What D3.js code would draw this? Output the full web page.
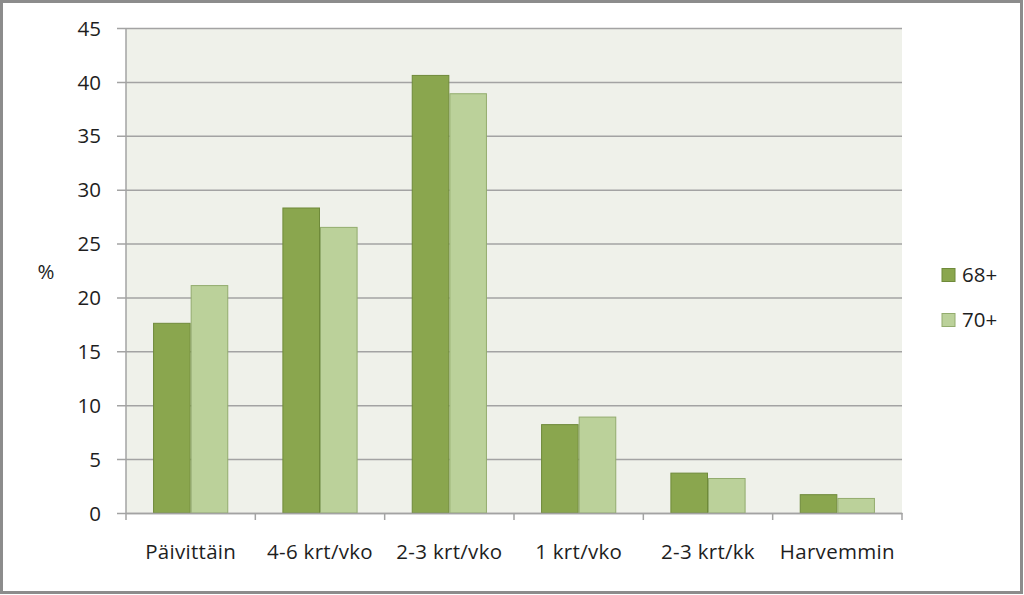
<!DOCTYPE html>
<html><head><meta charset="utf-8">
<script src="https://cdn.jsdelivr.net/npm/d3@7"></script>
<style>body{margin:0;background:#fff;} svg{display:block;}</style>
</head><body>
<svg id="c" width="1024" height="595"></svg>
<script>
const categories = ["Päivittäin", "4-6 krt/vko", "2-3 krt/vko", "1 krt/vko", "2-3 krt/kk", "Harvemmin"];
const seriesNames = ["68+", "70+"];
const values68 = [17.6, 28.3, 40.6, 8.2, 3.7, 1.7];
const values70 = [21.1, 26.5, 38.9, 8.9, 3.2, 1.35];
const yTicks = [0, 5, 10, 15, 20, 25, 30, 35, 40, 45];
const colors = ["#8aa64e", "#bbd19a"];
const strokes = ["#6f8a3a", "#93ac6e"];

(function(){
const svg = d3.select("#c");
const font = "'Open Sans', sans-serif";
const fs = 20.5;
svg.append("rect").attr("x",1.5).attr("y",1.5).attr("width",1020).attr("height",591)
  .attr("fill","#fff").attr("stroke","#8c8c8c").attr("stroke-width",3);

const pL = 126, pR = 902, pT = 28, pB = 513;
const x = d3.scaleBand().domain(categories).range([pL, pR]).paddingInner(0).paddingOuter(0);
const x1 = d3.scaleBand().domain(seriesNames).range([0, x.bandwidth()]).paddingInner(0).paddingOuter(0.72);
const y = d3.scaleLinear().domain([0, 45]).range([pB, pT]);

svg.append("rect").attr("x",pL).attr("y",pT).attr("width",pR-pL).attr("height",pB-pT).attr("fill","#eff1ea");

// gridlines + y axis
const yAxis = d3.axisLeft(y).tickValues(yTicks).tickSize(pR-117).tickSizeOuter(0).tickFormat(d3.format("d"));
const gy = svg.append("g").attr("transform",`translate(${pR},0)`).call(yAxis);
gy.select(".domain").remove();
gy.selectAll(".tick line").attr("stroke","#a3a3a3").attr("stroke-width",1.5);
gy.selectAll(".tick text").attr("x",-(pR-117)-16).attr("font-family",font).attr("font-size",fs).attr("fill","#1e1e1e").attr("dy","0.35em");

svg.append("line").attr("x1",pL).attr("x2",pL).attr("y1",pT).attr("y2",pB).attr("stroke","#a3a3a3").attr("stroke-width",1.5);

// bars
const data = categories.map((c,i)=>({c, vals:[values68[i], values70[i]]}));
const groups = svg.append("g").selectAll("g").data(data).join("g").attr("transform",d=>`translate(${x(d.c)},0)`);
groups.selectAll("rect").data(d=>d.vals.map((v,j)=>({k:seriesNames[j], v, j}))).join("rect")
  .attr("x",d=>x1(d.k)+0.5).attr("width",x1.bandwidth()-1)
  .attr("y",d=>y(d.v)).attr("height",d=>pB - y(d.v))
  .attr("fill",d=>colors[d.j]).attr("stroke",d=>strokes[d.j]).attr("stroke-width",1);

// x axis
const xAxis = d3.axisBottom(x).tickSize(0).tickSizeOuter(0);
const gx = svg.append("g").attr("transform",`translate(0,${pB})`).call(xAxis);
gx.select(".domain").attr("stroke","#a3a3a3").attr("stroke-width",1.5);
gx.selectAll(".tick text").attr("font-family",font).attr("font-size",fs).attr("fill","#1e1e1e").attr("y",39).attr("dy","0.35em").attr("letter-spacing","0.3px");
const bounds = categories.map(c=>x(c)).concat([pR]);
svg.append("g").selectAll("line").data(bounds).join("line")
  .attr("x1",d=>d).attr("x2",d=>d).attr("y1",pB).attr("y2",pB+7)
  .attr("stroke","#a3a3a3").attr("stroke-width",1.5);

// y label
svg.append("text").attr("x",46).attr("y",272).attr("dy","0.35em").attr("text-anchor","middle")
  .attr("font-family",font).attr("font-size",fs).attr("fill","#1e1e1e").text("%");

// legend
const lg = svg.append("g").selectAll("g").data(seriesNames).join("g")
  .attr("transform",(d,i)=>`translate(942,${275 + i*45})`);
lg.append("rect").attr("x",0).attr("y",-6.5).attr("width",13).attr("height",13)
  .attr("fill",(d,i)=>colors[i]).attr("stroke",(d,i)=>strokes[i]);
lg.append("text").attr("x",20).attr("y",0).attr("dy","0.35em").attr("font-family",font).attr("font-size",fs).attr("fill","#1e1e1e").text(d=>d);
})();
</script>
</body></html>
